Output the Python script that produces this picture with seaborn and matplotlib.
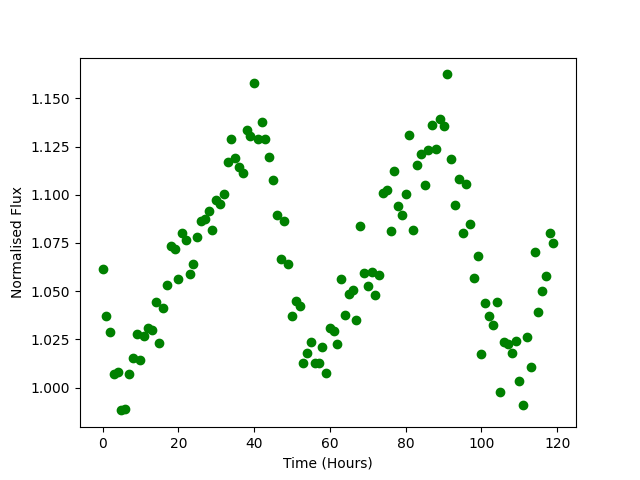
import matplotlib
matplotlib.use("Agg")
import matplotlib.pyplot as plt
import pandas as pd
import seaborn as sns


OUTPUT_FILE = "out.png"

# one reading per hour
HOURS = list(range(120))

FLUX = [
    1.0617, 1.0373, 1.0290, 1.0073, 1.0083, 0.9882, 0.9889, 1.0069, 1.0152, 1.0280,
    1.0145, 1.0270, 1.0311, 1.0300, 1.0446, 1.0233, 1.0411, 1.0534, 1.0733, 1.0719,
    1.0565, 1.0802, 1.0767, 1.0591, 1.0643, 1.0783, 1.0862, 1.0876, 1.0918, 1.0819,
    1.0973, 1.0952, 1.1002, 1.1172, 1.1291, 1.1193, 1.1146, 1.1115, 1.1334, 1.1307,
    1.1581, 1.1291, 1.1379, 1.1291, 1.1198, 1.1078, 1.0893, 1.0669, 1.0864, 1.0641,
    1.0370, 1.0451, 1.0423, 1.0130, 1.0181, 1.0238, 1.0126, 1.0130, 1.0213, 1.0074,
    1.0311, 1.0294, 1.0225, 1.0562, 1.0378, 1.0484, 1.0504, 1.0353, 1.0840, 1.0596,
    1.0529, 1.0599, 1.0482, 1.0584, 1.1011, 1.1023, 1.0814, 1.1125, 1.0944, 1.0897,
    1.1006, 1.1312, 1.0819, 1.1156, 1.1213, 1.1049, 1.1230, 1.1364, 1.1236, 1.1391,
    1.1358, 1.1624, 1.1183, 1.0949, 1.1080, 1.0804, 1.1058, 1.0850, 1.0570, 1.0684,
    1.0176, 1.0441, 1.0373, 1.0327, 1.0444, 0.9979, 1.0235, 1.0226, 1.0181, 1.0244,
    1.0036, 0.9912, 1.0264, 1.0109, 1.0705, 1.0394, 1.0503, 1.0581, 1.0804, 1.0752,
]


def plot_light_curve(df: pd.DataFrame):
    fig, ax = plt.subplots(figsize=(6.4, 4.8), dpi=100)
    sns.scatterplot(
        data=df, x="Time", y="Flux", ax=ax,
        color="green", s=36, edgecolor="green", linewidth=1,
    )
    ax.set_xlabel("Time (Hours)")
    ax.set_ylabel("Normalised Flux")
    ax.yaxis.set_major_formatter(matplotlib.ticker.FormatStrFormatter("%.3f"))
    fig.savefig(OUTPUT_FILE, dpi=100)


def main():
    data = pd.DataFrame({"Time": HOURS, "Flux": FLUX})
    plot_light_curve(data)


if __name__ == "__main__":
    main()
